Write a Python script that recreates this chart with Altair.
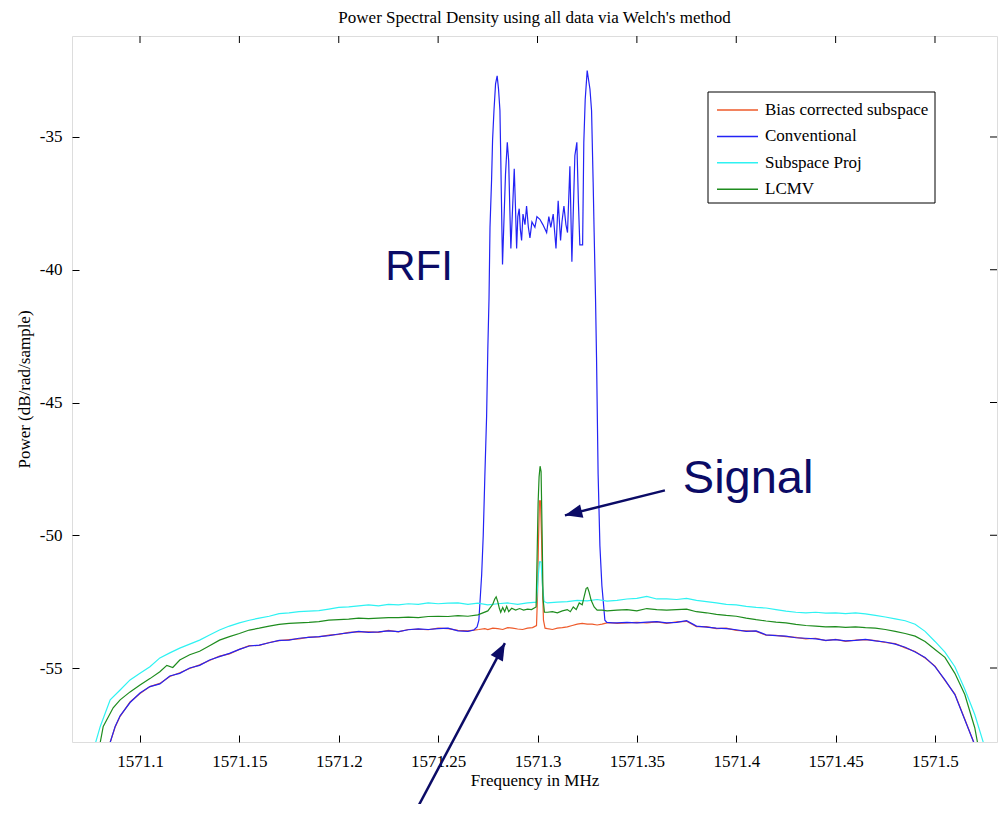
import altair as alt
import pandas as pd

SERIES = ["Bias corrected subspace", "Conventional", "Subspace Proj", "LCMV"]
COLORS = ["#ee5a2a", "#2323f5", "#2ef2f2", "#1e8c1e"]

# ---------------- Conventional (blue) ----------------
conv_f = [1571.085, 1571.0875, 1571.09, 1571.095, 1571.10, 1571.105, 1571.11, 1571.115, 1571.12,
          1571.125, 1571.13, 1571.135, 1571.14, 1571.145, 1571.15, 1571.155, 1571.16, 1571.165,
          1571.17, 1571.175, 1571.18, 1571.185, 1571.19, 1571.195, 1571.20, 1571.205, 1571.21,
          1571.215, 1571.22, 1571.225, 1571.23, 1571.235, 1571.24, 1571.245, 1571.25, 1571.255,
          1571.26, 1571.265, 1571.268, 1571.2696,
          1571.2705, 1571.2719, 1571.2727, 1571.2735, 1571.2744, 1571.2750, 1571.2756, 1571.2761,
          1571.2769, 1571.2774, 1571.2781, 1571.2789, 1571.2797, 1571.2804, 1571.2811, 1571.2815,
          1571.2821, 1571.2824, 1571.2831, 1571.2839, 1571.2848, 1571.2855, 1571.2861, 1571.2866,
          1571.2874, 1571.2883, 1571.2889, 1571.2895, 1571.2901, 1571.2908, 1571.2914, 1571.2920,
          1571.2927, 1571.2937, 1571.2945, 1571.2954, 1571.2962, 1571.2972, 1571.2987, 1571.2997,
          1571.3012, 1571.3027, 1571.3046, 1571.3057, 1571.3067, 1571.3079, 1571.3093, 1571.3104,
          1571.3116, 1571.3123, 1571.3133, 1571.3143, 1571.3151, 1571.3163, 1571.3173, 1571.3188,
          1571.3198, 1571.3206, 1571.3213, 1571.3227, 1571.3233, 1571.3240, 1571.3250, 1571.3264,
          1571.3272, 1571.3280, 1571.3285, 1571.3292, 1571.3297, 1571.3305, 1571.3314, 1571.3324,
          1571.3331, 1571.3339, 1571.3349, 1571.3379,
          1571.34, 1571.345, 1571.35, 1571.355, 1571.36, 1571.365, 1571.37, 1571.375, 1571.38,
          1571.385, 1571.39, 1571.395, 1571.40, 1571.405, 1571.41, 1571.415, 1571.42, 1571.425,
          1571.43, 1571.435, 1571.44, 1571.445, 1571.45, 1571.455, 1571.46, 1571.465, 1571.47,
          1571.475, 1571.48, 1571.485, 1571.49, 1571.495, 1571.50, 1571.505, 1571.51, 1571.515,
          1571.5195, 1571.522]
conv_p = [-57.8, -57.2, -56.8, -56.3, -55.94, -55.7, -55.6, -55.3, -55.2,
          -55.0, -54.9, -54.7, -54.57, -54.45, -54.3, -54.17, -54.14, -54.05,
          -53.96, -53.95, -53.88, -53.85, -53.82, -53.78, -53.72, -53.68, -53.62,
          -53.66, -53.64, -53.6, -53.63, -53.56, -53.53, -53.55, -53.52, -53.5,
          -53.6, -53.62, -53.57, -53.45,
          -53.2, -51.5, -50.0, -47.8, -45.5, -43.0, -41.1, -38.4,
          -36.6, -35.1, -34.0, -33.0, -32.7, -33.2, -34.0, -35.7,
          -38.5, -39.8, -38.2, -36.4, -35.2, -35.9, -37.8, -39.2,
          -37.8, -36.2, -37.6, -39.2, -38.0, -37.7, -38.5, -38.9,
          -37.9, -38.3, -37.6, -38.4, -38.8, -38.2, -38.4, -38.0,
          -38.1, -38.3, -38.6, -38.0, -38.4, -37.9, -39.2, -37.4,
          -38.9, -38.2, -37.6, -38.3, -38.6, -36.1, -39.7, -35.7,
          -35.2, -37.5, -39.06, -39.06, -35.2, -33.6, -32.5, -33.2,
          -34.0, -36.7, -38.6, -41.1, -43.3, -47.7, -50.4, -51.9,
          -52.5, -53.2, -53.28, -53.3,
          -53.3, -53.28, -53.3, -53.27, -53.25, -53.3, -53.28, -53.22, -53.42,
          -53.46, -53.5, -53.52, -53.56, -53.62, -53.6, -53.75, -53.78, -53.8,
          -53.86, -53.88, -53.9, -53.96, -53.93, -53.98, -53.96, -53.92, -53.98,
          -54.02, -54.1, -54.22, -54.4, -54.6, -54.95, -55.45, -56.0, -56.95,
          -57.8, -58.3]

# ---------------- Bias corrected subspace (red) ----------------
bias_f = [1571.085, 1571.0875, 1571.09, 1571.095, 1571.10, 1571.105, 1571.11, 1571.115, 1571.12,
          1571.125, 1571.13, 1571.135, 1571.14, 1571.145, 1571.15, 1571.155, 1571.16, 1571.165,
          1571.17, 1571.175, 1571.18, 1571.185, 1571.19, 1571.195, 1571.20, 1571.205, 1571.21,
          1571.215, 1571.22, 1571.225, 1571.23, 1571.235, 1571.24, 1571.245, 1571.25, 1571.255,
          1571.26, 1571.265, 1571.268, 1571.2705, 1571.2735, 1571.275, 1571.2775, 1571.28,
          1571.2825, 1571.285, 1571.2875, 1571.29, 1571.2925, 1571.295, 1571.2975, 1571.2995,
          1571.3000, 1571.3005, 1571.3010, 1571.3015, 1571.3020, 1571.3025, 1571.3030, 1571.3038,
          1571.305, 1571.3075, 1571.31, 1571.3125, 1571.315, 1571.3175, 1571.32, 1571.3225,
          1571.325, 1571.3275, 1571.33, 1571.3325, 1571.335, 1571.3379,
          1571.34, 1571.345, 1571.35, 1571.355, 1571.36, 1571.365, 1571.37, 1571.375, 1571.38,
          1571.385, 1571.39, 1571.395, 1571.40, 1571.405, 1571.41, 1571.415, 1571.42, 1571.425,
          1571.43, 1571.435, 1571.44, 1571.445, 1571.45, 1571.455, 1571.46, 1571.465, 1571.47,
          1571.475, 1571.48, 1571.485, 1571.49, 1571.495, 1571.50, 1571.505, 1571.51, 1571.515,
          1571.5195, 1571.522]
bias_p = [-57.8, -57.22, -56.82, -56.28, -55.96, -55.7, -55.58, -55.32, -55.18,
          -55.02, -54.88, -54.72, -54.55, -54.47, -54.3, -54.16, -54.15, -54.04,
          -53.97, -53.93, -53.9, -53.84, -53.83, -53.76, -53.73, -53.66, -53.64,
          -53.64, -53.66, -53.58, -53.64, -53.55, -53.54, -53.56, -53.5, -53.52,
          -53.58, -53.6, -53.57, -53.55, -53.52, -53.55, -53.5, -53.52,
          -53.55, -53.48, -53.5, -53.53, -53.55, -53.5, -53.48, -53.4,
          -52.3, -50.2, -48.7, -48.7, -50.0, -51.8, -53.2, -53.5,
          -53.52, -53.55, -53.5, -53.48, -53.45, -53.4, -53.35, -53.32,
          -53.35, -53.35, -53.38, -53.35, -53.3, -53.3,
          -53.32, -53.3, -53.28, -53.3, -53.26, -53.32, -53.26, -53.24, -53.44,
          -53.44, -53.52, -53.5, -53.58, -53.6, -53.62, -53.76, -53.77, -53.82,
          -53.85, -53.9, -53.88, -53.97, -53.92, -54.0, -53.95, -53.93, -53.97,
          -54.04, -54.08, -54.24, -54.38, -54.62, -54.93, -55.47, -55.98, -56.93,
          -57.8, -58.3]

# ---------------- Subspace Proj (cyan) ----------------
sub_f = [1571.0775, 1571.08, 1571.085, 1571.09, 1571.095, 1571.10, 1571.105, 1571.11, 1571.115,
         1571.12, 1571.125, 1571.13, 1571.135, 1571.14, 1571.145, 1571.15, 1571.155, 1571.16,
         1571.165, 1571.17, 1571.175, 1571.18, 1571.185, 1571.19, 1571.195, 1571.20, 1571.205,
         1571.21, 1571.215, 1571.22, 1571.225, 1571.23, 1571.235, 1571.24, 1571.245, 1571.25,
         1571.255, 1571.26, 1571.265, 1571.27, 1571.275, 1571.28, 1571.285, 1571.29, 1571.295,
         1571.2995, 1571.3003, 1571.3010, 1571.3018, 1571.3025, 1571.3033, 1571.305, 1571.31,
         1571.315, 1571.32, 1571.325, 1571.33, 1571.335, 1571.34, 1571.345, 1571.35, 1571.355,
         1571.36, 1571.365, 1571.37, 1571.375, 1571.38, 1571.385, 1571.39, 1571.395, 1571.40,
         1571.405, 1571.41, 1571.415, 1571.42, 1571.425, 1571.43, 1571.435, 1571.44, 1571.445,
         1571.45, 1571.455, 1571.46, 1571.465, 1571.47, 1571.475, 1571.48, 1571.485, 1571.49,
         1571.495, 1571.50, 1571.505, 1571.51, 1571.515, 1571.52, 1571.5245, 1571.527]
sub_p = [-57.85, -57.2, -56.2, -55.83, -55.45, -55.2, -54.95, -54.62, -54.43,
         -54.25, -54.1, -53.95, -53.76, -53.57, -53.42, -53.3, -53.2, -53.12,
         -53.05, -52.95, -52.92, -52.88, -52.86, -52.84, -52.78, -52.72, -52.7,
         -52.66, -52.62, -52.66, -52.6, -52.62, -52.58, -52.6, -52.55, -52.58,
         -52.56, -52.55, -52.6, -52.56, -52.62, -52.58, -52.55, -52.6, -52.55,
         -52.52, -51.6, -51.0, -51.0, -51.9, -52.5, -52.55, -52.52,
         -52.5, -52.45, -52.47, -52.42, -52.48, -52.45, -52.4, -52.38, -52.3,
         -52.4, -52.4, -52.42, -52.38, -52.45, -52.5, -52.55, -52.6, -52.62,
         -52.68, -52.72, -52.74, -52.8, -52.86, -52.9, -52.92, -52.9, -52.93,
         -52.92, -52.95, -52.92, -52.96, -53.02, -53.08, -53.15, -53.22, -53.35,
         -53.62, -54.0, -54.4, -54.95, -55.8, -56.75, -57.85, -58.5]

# ---------------- LCMV (green) ----------------
lcmv_f = [1571.08, 1571.0815, 1571.0865, 1571.09, 1571.095, 1571.10, 1571.105, 1571.11, 1571.1135,
          1571.1165, 1571.12, 1571.125, 1571.13, 1571.135, 1571.14, 1571.145, 1571.15, 1571.155,
          1571.16, 1571.165, 1571.17, 1571.175, 1571.18, 1571.185, 1571.19, 1571.195, 1571.20,
          1571.205, 1571.21, 1571.215, 1571.22, 1571.225, 1571.23, 1571.235, 1571.24, 1571.245,
          1571.25, 1571.255, 1571.26, 1571.265, 1571.27, 1571.275, 1571.2775, 1571.2785, 1571.2792,
          1571.28, 1571.2808, 1571.2815, 1571.2825, 1571.2835, 1571.2845, 1571.2855, 1571.287,
          1571.289, 1571.291, 1571.293, 1571.295, 1571.297, 1571.2993, 1571.2998, 1571.3003,
          1571.3008, 1571.3013, 1571.3018, 1571.3023, 1571.3028, 1571.3035, 1571.305, 1571.3075,
          1571.31, 1571.3125, 1571.315, 1571.3165, 1571.318, 1571.3195, 1571.321, 1571.3225,
          1571.3235, 1571.3245, 1571.3252, 1571.326, 1571.327, 1571.3285, 1571.33, 1571.3325,
          1571.335, 1571.34, 1571.345, 1571.35, 1571.355, 1571.36, 1571.365, 1571.37, 1571.375,
          1571.38, 1571.385, 1571.39, 1571.395, 1571.40, 1571.405, 1571.41, 1571.415, 1571.42,
          1571.425, 1571.43, 1571.435, 1571.44, 1571.445, 1571.45, 1571.455, 1571.46, 1571.465,
          1571.47, 1571.475, 1571.48, 1571.485, 1571.49, 1571.495, 1571.50, 1571.505, 1571.51,
          1571.515, 1571.52, 1571.5215, 1571.524]
lcmv_p = [-57.8, -57.2, -56.5, -56.2, -55.9, -55.64, -55.4, -55.14, -54.9,
          -54.98, -54.7, -54.5, -54.37, -54.16, -53.95, -53.82, -53.7, -53.57,
          -53.5, -53.42, -53.36, -53.32, -53.3, -53.28, -53.25, -53.2, -53.18,
          -53.16, -53.12, -53.14, -53.12, -53.1, -53.1, -53.08, -53.1, -53.06,
          -53.05, -53.06, -53.03, -53.05, -53.0, -52.85, -52.6, -52.4, -52.32,
          -52.5, -52.75, -52.9, -52.72, -52.88, -52.68, -52.88, -52.75,
          -52.82, -52.76, -52.82, -52.78, -52.8, -52.7, -50.8, -48.8,
          -47.8, -47.4, -47.6, -49.8, -52.4, -52.9, -52.9, -52.88,
          -52.92, -52.85, -52.8, -52.88, -52.7, -52.8, -52.55, -52.62,
          -52.3, -52.0, -51.97, -52.15, -52.45, -52.7, -52.82, -52.82,
          -52.85, -52.82, -52.8, -52.85, -52.76, -52.8, -52.82, -52.8, -52.78,
          -52.88, -52.92, -52.98, -53.02, -53.05, -53.12, -53.18, -53.23, -53.27,
          -53.3, -53.36, -53.4, -53.42, -53.45, -53.44, -53.47, -53.45, -53.48,
          -53.5, -53.55, -53.62, -53.7, -53.8, -54.0, -54.3, -54.6, -55.2,
          -56.0, -57.25, -57.85, -58.5]

# ---------------- axes and annotations ----------------
X_TICKS = [1571.1, 1571.15, 1571.2, 1571.25, 1571.3, 1571.35, 1571.4, 1571.45, 1571.5]
Y_TICKS = [-55, -50, -45, -40, -35]
X_DOMAIN = [1571.065786, 1571.531195]
Y_DOMAIN = [-57.787, -31.196]

LABEL_TEXT = ["RFI", "Signal"]
LABEL_F = [1571.2404, 1571.3731]
LABEL_P = [-40.4, -48.42]

ARROW_F1 = [1571.3641, 1571.2358]
ARROW_P1 = [-48.31, -60.8]
ARROW_F2 = [1571.3138, 1571.2836]
ARROW_P2 = [-49.25, -54.06]
ARROW_ANGLE = [256, 28]

NAVY = "#0b0b66"
SERIF = "Liberation Serif"
FS = 17

frames = []
for name, f, p in [(SERIES[0], bias_f, bias_p), (SERIES[1], conv_f, conv_p),
                   (SERIES[2], sub_f, sub_p), (SERIES[3], lcmv_f, lcmv_p)]:
    frames.append(pd.DataFrame({"freq": f, "power": p, "series": name}))
df = pd.concat(frames, ignore_index=True)

xscale = alt.Scale(domain=X_DOMAIN, nice=False, zero=False)
yscale = alt.Scale(domain=Y_DOMAIN, nice=False, zero=False)
cscale = alt.Scale(domain=SERIES, range=COLORS)

xaxis = alt.Axis(values=X_TICKS, format="~g", offset=-7, tickSize=7, domain=False, grid=False,
                 labelFont=SERIF, labelFontSize=FS, labelColor="black", tickColor="black",
                 labelPadding=11, titleFont=SERIF, titleFontSize=FS, titleFontWeight="normal",
                 titleColor="black", titlePadding=3)
yaxis = alt.Axis(values=Y_TICKS, labelExpr="'' + datum.value", offset=-7, tickSize=7,
                 domain=False, grid=False, labelFont=SERIF, labelFontSize=FS, labelColor="black",
                 tickColor="black", labelPadding=10, titleFont=SERIF, titleFontSize=FS,
                 titleFontWeight="normal", titleColor="black", titlePadding=6)

base = alt.Chart(df)
layers = []
for name in SERIES:
    layers.append(
        base.transform_filter(alt.datum.series == name)
        .mark_line(clip=True, strokeWidth=1.2)
        .encode(
            x=alt.X("freq:Q", scale=xscale, axis=xaxis, title="Frequency in MHz"),
            y=alt.Y("power:Q", scale=yscale, axis=yaxis, title="Power (dB/rad/sample)"),
            color=alt.Color("series:N", scale=cscale, legend=None),
        )
    )

tick_x = alt.Chart(pd.DataFrame({"t": X_TICKS})).mark_rule(color="black").encode(
    x=alt.X("t:Q", scale=xscale), y=alt.value(0), y2=alt.value(7))
tick_y = alt.Chart(pd.DataFrame({"t": Y_TICKS})).mark_rule(color="black").encode(
    y=alt.Y("t:Q", scale=yscale), x=alt.value(925), x2=alt.value(918))

# legend box drawn by hand (MATLAB style)
leg_box = alt.Chart(pd.DataFrame({"k": [0]})).mark_rect(
    fill="white", stroke="black", strokeWidth=1).encode(
    x=alt.value(636), x2=alt.value(863), y=alt.value(56), y2=alt.value(167))
leg_items = []
for i, name in enumerate(SERIES):
    yy = 74 + 26.4 * i
    d = pd.DataFrame({"series": [name]})
    leg_items.append(alt.Chart(d).mark_rule(color=COLORS[i], strokeWidth=1.5).encode(
        x=alt.value(645), x2=alt.value(686), y=alt.value(yy)))
    leg_items.append(alt.Chart(d).mark_text(font=SERIF, fontSize=FS, color="black",
                                            align="left", baseline="middle").encode(
        x=alt.value(693), y=alt.value(yy), text="series:N"))

ann = pd.DataFrame({"text": LABEL_TEXT, "f": LABEL_F, "p": LABEL_P})
rfi = alt.Chart(ann.iloc[[0]]).mark_text(font="Liberation Sans", fontSize=42, color=NAVY,
                                         align="center", baseline="alphabetic").encode(
    x=alt.X("f:Q", scale=xscale), y=alt.Y("p:Q", scale=yscale), text="text:N")
sig = alt.Chart(ann.iloc[[1]]).mark_text(font="Liberation Sans", fontSize=47, color=NAVY,
                                         align="left", baseline="alphabetic").encode(
    x=alt.X("f:Q", scale=xscale), y=alt.Y("p:Q", scale=yscale), text="text:N")

arr = pd.DataFrame({"f1": ARROW_F1, "p1": ARROW_P1, "f2": ARROW_F2, "p2": ARROW_P2,
                    "angle": ARROW_ANGLE})
arrow_lines = alt.Chart(arr).mark_rule(color=NAVY, strokeWidth=2.5, clip=False).encode(
    x=alt.X("f1:Q", scale=xscale), y=alt.Y("p1:Q", scale=yscale),
    x2="f2:Q", y2="p2:Q")
arrow_heads = alt.Chart(arr).mark_point(shape="M0,0L0.8,2L-0.8,2Z", filled=True, size=300,
                                        color=NAVY, opacity=1, strokeWidth=0).encode(
    x=alt.X("f2:Q", scale=xscale), y=alt.Y("p2:Q", scale=yscale),
    angle=alt.Angle("angle:Q", scale=None))

chart = alt.layer(*layers, tick_x, tick_y, leg_box, *leg_items, rfi, sig,
                  arrow_lines, arrow_heads).properties(
    width=925, height=706,
    title=alt.TitleParams("Power Spectral Density using all data via Welch's method",
                          font=SERIF, fontSize=FS, fontWeight="normal", color="black",
                          offset=9, anchor="middle"),
    autosize=alt.AutoSizeParams(type="none"),
    padding={"left": 64, "top": 28, "right": 2, "bottom": 62},
).configure_view(stroke="black", strokeWidth=1).configure(background="white")

chart.save("out.html", embed_options={"renderer": "svg", "actions": False})
